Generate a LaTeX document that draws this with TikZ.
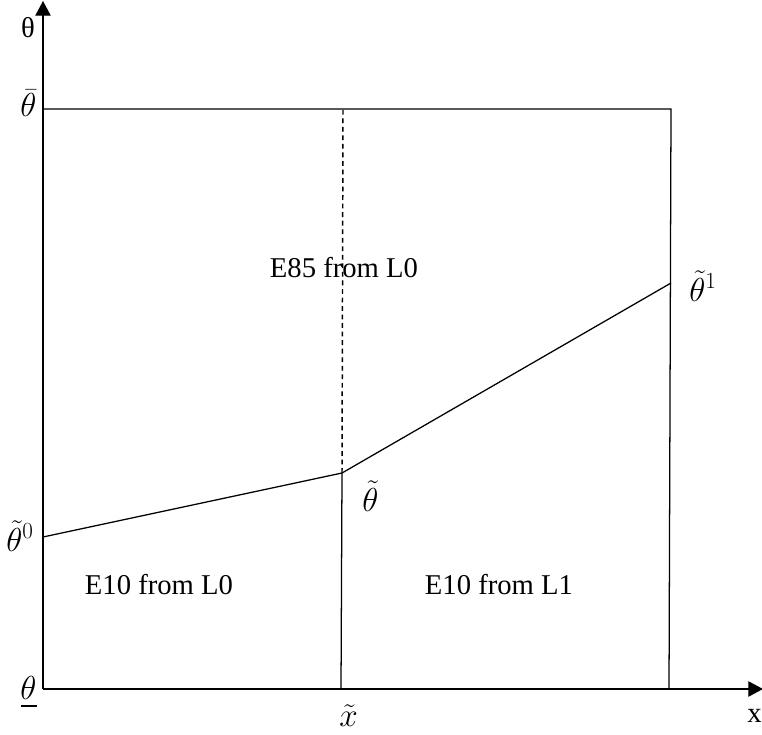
\documentclass[tikz,border=0pt]{standalone}
\usepackage{fontspec}
\setmainfont{Liberation Serif}
\usetikzlibrary{arrows.meta}
\begin{document}
\begin{tikzpicture}[x=0.75pt,y=-0.75pt,
  line/.style={line width=0.95pt,black},
  axis/.style={line width=0.95pt,-{Triangle[length=11pt,width=11.5pt]}},
  lbl/.style={font=\fontsize{21.5}{24}\selectfont,inner sep=0pt},
  mlbl/.style={font=\fontsize{23.5}{26}\selectfont,inner sep=0pt}]
\useasboundingbox (0,0) rectangle (762,734);
\coordinate (O) at (43,689);
\coordinate (ytip) at (43,1);
\coordinate (xtip) at (763,689);
\coordinate (TL) at (43,109);
\coordinate (TR) at (671,109);
\coordinate (BR) at (669,689);
\coordinate (TM) at (343,109);
\coordinate (K) at (342,473);
\coordinate (BM) at (341,689);
\coordinate (L0) at (43,537);
\coordinate (R1) at (671,283);
\draw[axis] (O) -- (ytip);
\draw[axis] (O) -- (xtip);
\draw[line] (TL) -- (TR) -- (BR);
\draw[line] (BM) -- (K);
\draw[line,line width=1.1pt,dash pattern=on 3.6pt off 2.8pt] (K) -- (TM);
\draw[line] (L0) -- (K) -- (R1);
\node[lbl,anchor=base] (ylab) at (28,38) {θ};
\node[mlbl,anchor=base west] (tbar) at (20,117) {$\bar\theta$};
\node[mlbl,anchor=base west] (t1) at (689,301) {$\tilde\theta^{1}$};
\node[mlbl,anchor=base west] (tt) at (362,511) {$\tilde\theta$};
\node[mlbl,anchor=base west] (t0) at (6,551) {$\tilde\theta^{0}$};
\node[mlbl,anchor=base west] (tund) at (20,699) {$\theta$};
\draw[line width=2.2pt] (tund.base west) ++(1,7) coordinate (u1) -- ++(16,0) coordinate (u2);
\node[mlbl,anchor=base west] (xt) at (339,726) {$\tilde x$};
\node[lbl,anchor=base west] (xlab) at (747,722) {x};
\node[lbl,anchor=base] (e85) at (344,277) {E85 from L0};
\node[lbl,anchor=base] (e10a) at (159,594) {E10 from L0};
\node[lbl,anchor=base] (e10b) at (499,594) {E10 from L1};
\end{tikzpicture}
\end{document}
